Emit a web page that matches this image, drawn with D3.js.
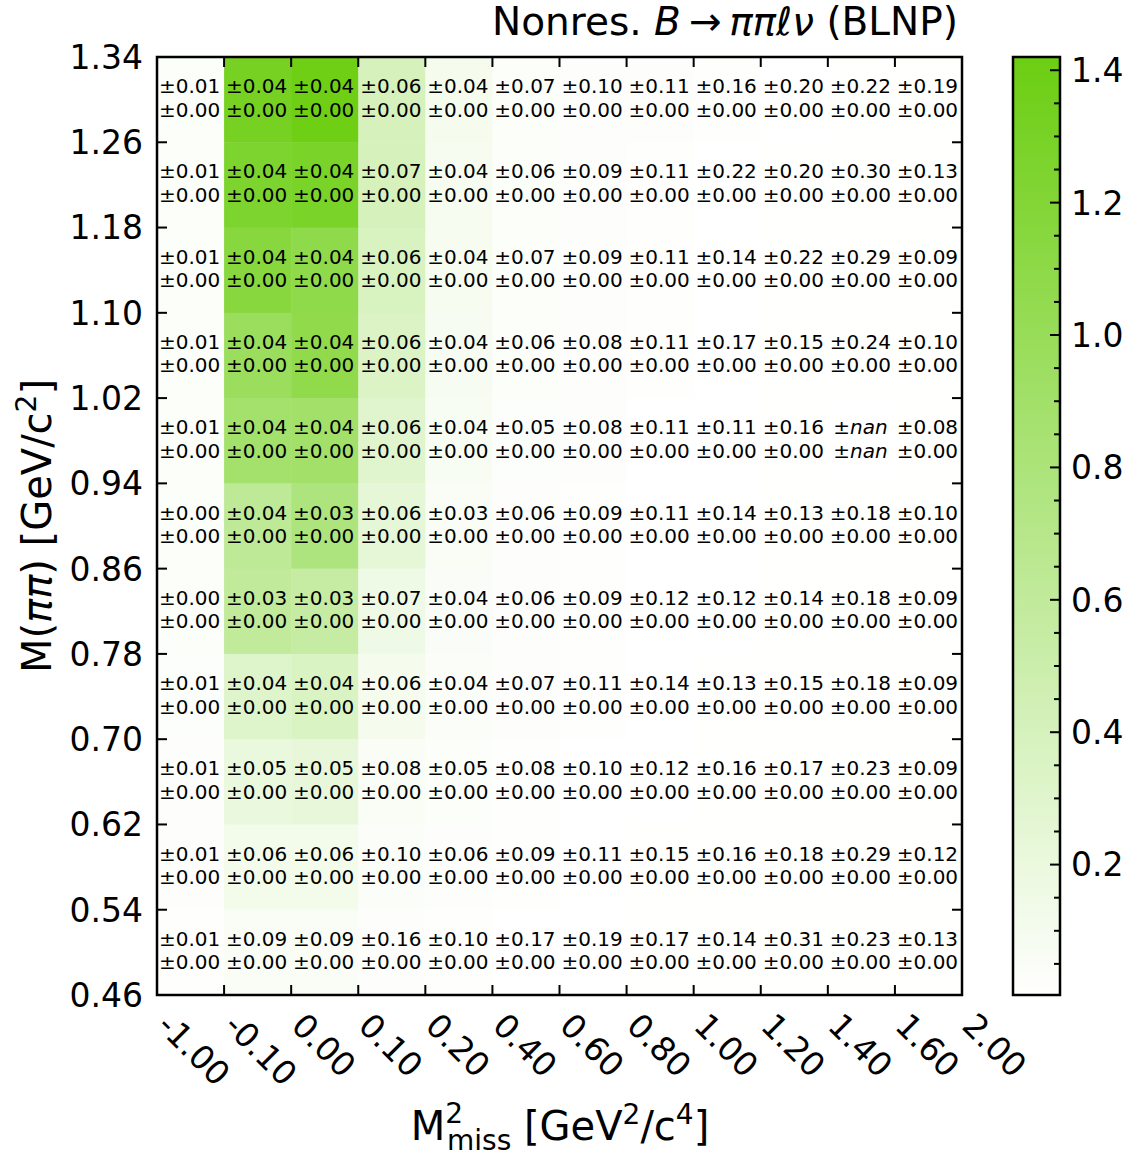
<!DOCTYPE html>
<html><head><meta charset="utf-8">
<script src="https://cdn.jsdelivr.net/npm/d3@7"></script>
<style>body{margin:0;background:#fff;} text{font-family:"DejaVu Sans",sans-serif;fill:#000;}</style>
</head><body>
<svg id="c" width="1134" height="1160"></svg>
<script>
// ---- data ----
const xEdgeLabels = ["-1.00","-0.10","0.00","0.10","0.20","0.40","0.60","0.80","1.00","1.20","1.40","1.60","2.00"];
const yEdgeLabels = ["1.34","1.26","1.18","1.10","1.02","0.94","0.86","0.78","0.70","0.62","0.54","0.46"]; // top to bottom
// cell values, rows top (1.26-1.34) to bottom (0.46-0.54); null = nan
const values = [
  [0.035,1.32,1.40,0.40,0.10,0.03,0.02,0.015,0.010,0.006,0.004,0.004],
  [0.035,1.25,1.28,0.40,0.09,0.03,0.02,0.012,0.006,0.004,0.004,0.004],
  [0.035,1.15,1.08,0.38,0.09,0.03,0.018,0.010,0.006,0.004,0.003,0.004],
  [0.035,0.97,1.07,0.34,0.08,0.03,0.018,0.010,0.005,0.004,0.003,0.004],
  [0.035,0.88,0.90,0.30,0.07,0.025,0.015,0.008,0.005,0.004,null,0.004],
  [0.030,0.63,0.78,0.24,0.06,0.022,0.012,0.008,0.005,0.004,0.003,0.004],
  [0.030,0.60,0.55,0.15,0.05,0.020,0.012,0.008,0.005,0.004,0.003,0.004],
  [0.025,0.32,0.36,0.10,0.04,0.018,0.010,0.006,0.004,0.003,0.003,0.003],
  [0.020,0.20,0.22,0.06,0.03,0.012,0.008,0.005,0.004,0.003,0.003,0.003],
  [0.015,0.12,0.12,0.04,0.02,0.010,0.006,0.004,0.003,0.003,0.003,0.003],
  [0.010,0.06,0.06,0.02,0.01,0.008,0.005,0.004,0.003,0.003,0.003,0.003]
];
const statErr = [
  ["0.01","0.04","0.04","0.06","0.04","0.07","0.10","0.11","0.16","0.20","0.22","0.19"],
  ["0.01","0.04","0.04","0.07","0.04","0.06","0.09","0.11","0.22","0.20","0.30","0.13"],
  ["0.01","0.04","0.04","0.06","0.04","0.07","0.09","0.11","0.14","0.22","0.29","0.09"],
  ["0.01","0.04","0.04","0.06","0.04","0.06","0.08","0.11","0.17","0.15","0.24","0.10"],
  ["0.01","0.04","0.04","0.06","0.04","0.05","0.08","0.11","0.11","0.16","nan","0.08"],
  ["0.00","0.04","0.03","0.06","0.03","0.06","0.09","0.11","0.14","0.13","0.18","0.10"],
  ["0.00","0.03","0.03","0.07","0.04","0.06","0.09","0.12","0.12","0.14","0.18","0.09"],
  ["0.01","0.04","0.04","0.06","0.04","0.07","0.11","0.14","0.13","0.15","0.18","0.09"],
  ["0.01","0.05","0.05","0.08","0.05","0.08","0.10","0.12","0.16","0.17","0.23","0.09"],
  ["0.01","0.06","0.06","0.10","0.06","0.09","0.11","0.15","0.16","0.18","0.29","0.12"],
  ["0.01","0.09","0.09","0.16","0.10","0.17","0.19","0.17","0.14","0.31","0.23","0.13"]
];
const sysErr = statErr.map(r => r.map(v => v === "nan" ? "nan" : "0.00"));
const colorTicks = [0.2,0.4,0.6,0.8,1.0,1.2,1.4];
const vmin = 0.003, vmax = 1.42;

// ---- layout ----
const L = 157, R = 962, T = 57, B = 995;
const cbL = 1013, cbR = 1060;
const svg = d3.select("#c");
const nCols = xEdgeLabels.length - 1, nRows = yEdgeLabels.length - 1;
const x = d3.scaleBand().domain(d3.range(nCols)).range([L, R]);
const y = d3.scaleBand().domain(d3.range(nRows)).range([T, B]);
const xEdge = d3.scaleLinear().domain([0, nCols]).range([L, R]);
const yEdge = d3.scaleLinear().domain([0, nRows]).range([T, B]);
const color = d3.scaleLinear().domain([0, vmax]).range(["#ffffff", "rgb(108,206,18)"]).clamp(true);

// cells
const cells = [];
values.forEach((row, r) => row.forEach((v, c) => cells.push({r, c, v, s: statErr[r][c], y: sysErr[r][c]})));
svg.append("g").selectAll("rect").data(cells).join("rect")
  .attr("x", d => x(d.c)).attr("y", d => y(d.r))
  .attr("width", x.bandwidth() + 0.5).attr("height", y.bandwidth() + 0.5)
  .attr("fill", d => d.v == null ? "none" : color(d.v));

// cell text
const tg = svg.append("g").style("font-size", "20px").attr("text-anchor", "middle");
function addPm(sel, val) {
  sel.append("tspan").text("±");
  if (val === "nan") sel.append("tspan").style("font-style", "italic").text("nan");
  else sel.append("tspan").text(val);
}
cells.forEach(d => {
  const cx = x(d.c) + x.bandwidth() / 2, cy = y(d.r) + y.bandwidth() / 2;
  addPm(tg.append("text").attr("x", cx - 1).attr("y", cy - 6.5), d.s);
  addPm(tg.append("text").attr("x", cx - 1).attr("y", cy + 17), d.y);
});

// frame + ticks
const tickLen = 10;
const fg = svg.append("g").attr("stroke", "#000").attr("stroke-width", 2);
d3.range(nCols + 1).forEach(i => {
  const xx = xEdge(i);
  fg.append("line").attr("x1", xx).attr("x2", xx).attr("y1", B).attr("y2", B - tickLen);
  fg.append("line").attr("x1", xx).attr("x2", xx).attr("y1", T).attr("y2", T + tickLen);
});
d3.range(nRows + 1).forEach(i => {
  const yy = yEdge(i);
  fg.append("line").attr("x1", L).attr("x2", L + tickLen).attr("y1", yy).attr("y2", yy);
  fg.append("line").attr("x1", R).attr("x2", R - tickLen).attr("y1", yy).attr("y2", yy);
});
svg.append("rect").attr("x", L).attr("y", T).attr("width", R - L).attr("height", B - T)
  .attr("fill", "none").attr("stroke", "#000").attr("stroke-width", 2.5);

// y tick labels
svg.append("g").style("font-size", "33px").attr("text-anchor", "end")
  .selectAll("text").data(yEdgeLabels).join("text")
  .attr("x", 143).attr("y", (d, i) => yEdge(i)).attr("dy", "0.36em").text(d => d);

// x tick labels rotated
svg.append("g").style("font-size", "33px")
  .selectAll("text").data(xEdgeLabels).join("text")
  .attr("transform", (d, i) => `translate(${xEdge(i) + 16},${1010}) rotate(45)`)
  .attr("dy", "0.75em").text(d => d);

// axis labels
const yl = svg.append("text").attr("transform", "translate(51,526) rotate(-90)")
  .attr("text-anchor", "middle").style("font-size", "40px");
yl.append("tspan").text("M(");
yl.append("tspan").style("font-style", "italic").text("ππ");
yl.append("tspan").text(") [GeV/c");
yl.append("tspan").attr("dy", -15).style("font-size", "28px").text("2");
yl.append("tspan").attr("dy", 15).text("]");

const xl = svg.append("text").attr("x", 560).attr("y", 1140)
  .attr("text-anchor", "middle").style("font-size", "40px");
xl.append("tspan").text("M");
xl.append("tspan").attr("dy", -17).style("font-size", "28px").text("2");
xl.append("tspan").attr("dx", -16).attr("dy", 27).style("font-size", "28px").text("miss");
xl.append("tspan").attr("dy", -10).text(" [GeV");
xl.append("tspan").attr("dy", -16).style("font-size", "28px").text("2");
xl.append("tspan").attr("dy", 16).text("/c");
xl.append("tspan").attr("dy", -16).style("font-size", "28px").text("4");
xl.append("tspan").attr("dy", 16).text("]");

// title
const tt = svg.append("text").attr("x", 958).attr("y", 35).attr("text-anchor", "end").style("font-size", "39px");
tt.append("tspan").text("Nonres. ");
tt.append("tspan").style("font-style", "italic").text("B");
tt.append("tspan").text("\u2009→\u2009");
tt.append("tspan").style("font-style", "italic").text("ππℓν");
tt.append("tspan").text(" (BLNP)");

// colorbar
const cy = d3.scaleLinear().domain([vmin, vmax]).range([B, T]);
const defs = svg.append("defs");
const grad = defs.append("linearGradient").attr("id", "cbg").attr("x1", 0).attr("x2", 0).attr("y1", 1).attr("y2", 0);
d3.range(0, 1.0001, 0.05).forEach(t => {
  const v = vmin + t * (vmax - vmin);
  grad.append("stop").attr("offset", t).attr("stop-color", color(v));
});
svg.append("rect").attr("x", cbL).attr("y", T).attr("width", cbR - cbL).attr("height", B - T).attr("fill", "url(#cbg)");
const cg = svg.append("g").attr("stroke", "#000").attr("stroke-width", 2);
d3.range(0.05, vmax, 0.05).forEach(v => {
  const isMajor = colorTicks.some(t => Math.abs(t - v) < 1e-6);
  cg.append("line").attr("x1", cbR).attr("x2", cbR - (isMajor ? 10 : 6)).attr("y1", cy(v)).attr("y2", cy(v));
});
svg.append("rect").attr("x", cbL).attr("y", T).attr("width", cbR - cbL).attr("height", B - T)
  .attr("fill", "none").attr("stroke", "#000").attr("stroke-width", 2.5);
svg.append("g").style("font-size", "33px").selectAll("text").data(colorTicks).join("text")
  .attr("x", 1071).attr("y", d => cy(d)).attr("dy", "0.36em").text(d => d.toFixed(1));
</script>
</body></html>
